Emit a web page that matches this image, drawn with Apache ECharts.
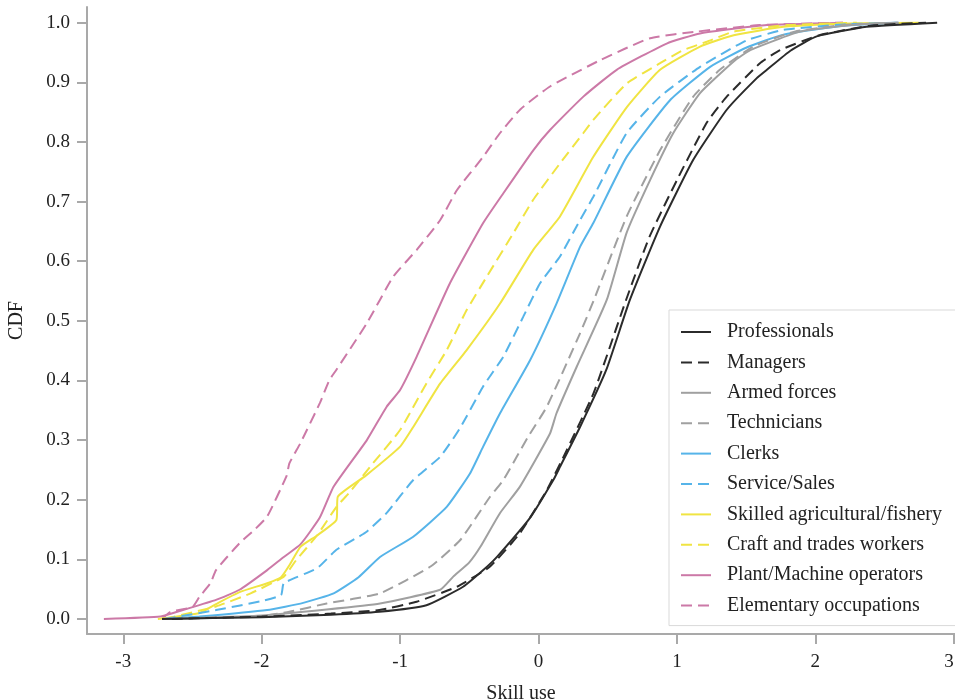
<!DOCTYPE html>
<html>
<head>
<meta charset="utf-8">
<script src="https://cdn.jsdelivr.net/npm/echarts@6/dist/echarts.min.js"></script>
<style>
  html, body { margin: 0; padding: 0; background: #fff; }
  #chart { width: 955px; height: 699px; }
</style>
</head>
<body>
<div id="chart"></div>
<script>
// Empirical CDFs of skill use by occupation group: [skill use, cumulative share]
const professionals = [[-2.72,0],[-2.0,0.003],[-1.5,0.007],[-1.15,0.012],[-0.81,0.023],[-0.545,0.054],[-0.37,0.088],[-0.30,0.104],[-0.06,0.17],[0.107,0.233],[0.155,0.255],[0.30,0.322],[0.49,0.418],[0.66,0.535],[0.878,0.658],[1.118,0.770],[1.36,0.854],[1.577,0.907],[1.65,0.921],[1.82,0.953],[2.01,0.977],[2.37,0.993],[2.88,1.0]];
const managers = [[-2.65,0],[-2.0,0.004],[-1.5,0.009],[-1.15,0.015],[-0.88,0.029],[-0.59,0.054],[-0.35,0.088],[-0.134,0.144],[0.06,0.216],[0.204,0.283],[0.40,0.38],[0.625,0.53],[0.80,0.64],[1.0,0.736],[1.215,0.832],[1.36,0.876],[1.60,0.932],[1.745,0.954],[2.03,0.979],[2.4,0.995],[2.8,1.0]];
const armedForces = [[-2.7,0],[-2.0,0.006],[-1.53,0.016],[-1.145,0.026],[-0.71,0.049],[-0.616,0.071],[-0.50,0.095],[-0.42,0.121],[-0.28,0.177],[-0.134,0.222],[0.083,0.311],[0.13,0.345],[0.276,0.423],[0.493,0.535],[0.637,0.648],[0.806,0.736],[0.974,0.815],[1.167,0.882],[1.41,0.935],[1.53,0.954],[1.89,0.985],[2.3,0.997],[2.6,1.0]];
const technicians = [[-2.7,0],[-2.3,0.002],[-2.0,0.005],[-1.8,0.012],[-1.53,0.026],[-1.145,0.043],[-0.78,0.088],[-0.567,0.132],[-0.35,0.205],[-0.254,0.233],[-0.074,0.306],[0.06,0.356],[0.30,0.479],[0.40,0.535],[0.637,0.675],[0.878,0.786],[1.118,0.876],[1.31,0.921],[1.55,0.96],[1.85,0.985],[2.2,0.996],[2.6,1.0]];
const clerks = [[-2.7,0],[-2.45,0.004],[-1.96,0.015],[-1.7,0.027],[-1.48,0.043],[-1.3,0.07],[-1.145,0.104],[-0.905,0.138],[-0.663,0.188],[-0.495,0.244],[-0.40,0.289],[-0.278,0.345],[-0.061,0.434],[0.13,0.529],[0.30,0.624],[0.396,0.664],[0.637,0.775],[0.95,0.870],[1.24,0.926],[1.50,0.958],[1.77,0.98],[2.2,0.995],[2.6,1.0]];
const serviceSales = [[-2.7,0],[-2.33,0.015],[-2.0,0.03],[-1.86,0.04],[-1.84,0.06],[-1.6,0.085],[-1.46,0.116],[-1.25,0.145],[-1.10,0.177],[-0.905,0.233],[-0.71,0.272],[-0.567,0.32],[-0.40,0.39],[-0.254,0.44],[-0.11,0.507],[0.011,0.563],[0.155,0.608],[0.30,0.669],[0.396,0.708],[0.637,0.815],[0.878,0.876],[1.167,0.926],[1.5,0.97],[1.77,0.988],[2.2,0.997],[2.6,1.0]];
const skilledAgri = [[-2.75,0],[-2.45,0.01],[-2.33,0.025],[-2.16,0.045],[-1.96,0.06],[-1.86,0.07],[-1.80,0.09],[-1.72,0.121],[-1.6,0.14],[-1.46,0.166],[-1.45,0.205],[-1.25,0.24],[-1.0,0.289],[-0.905,0.322],[-0.71,0.395],[-0.519,0.451],[-0.278,0.529],[-0.038,0.619],[0.155,0.675],[0.396,0.775],[0.637,0.858],[0.878,0.921],[1.167,0.960],[1.41,0.979],[1.77,0.993],[2.3,0.999],[2.75,1.0]];
const craftTrades = [[-2.7,0],[-2.33,0.021],[-2.08,0.043],[-1.84,0.071],[-1.75,0.099],[-1.6,0.14],[-1.46,0.188],[-1.37,0.211],[-1.2,0.26],[-1.0,0.317],[-0.81,0.395],[-0.663,0.451],[-0.519,0.518],[-0.374,0.574],[-0.182,0.647],[-0.038,0.703],[0.155,0.764],[0.324,0.815],[0.396,0.837],[0.637,0.898],[0.878,0.932],[1.046,0.954],[1.215,0.968],[1.41,0.985],[1.8,0.996],[2.3,1.0]];
const plantOperators = [[-3.14,0],[-2.73,0.004],[-2.57,0.015],[-2.33,0.032],[-2.16,0.049],[-1.96,0.082],[-1.84,0.104],[-1.72,0.125],[-1.58,0.17],[-1.48,0.222],[-1.24,0.30],[-1.097,0.356],[-1.0,0.384],[-0.88,0.44],[-0.64,0.563],[-0.40,0.664],[-0.254,0.714],[-0.038,0.786],[0.083,0.82],[0.324,0.876],[0.565,0.921],[0.926,0.965],[1.167,0.982],[1.65,0.996],[2.2,1.0]];
const elementary = [[-2.72,0],[-2.66,0.012],[-2.5,0.02],[-2.45,0.037],[-2.37,0.06],[-2.33,0.082],[-2.16,0.127],[-2.05,0.15],[-1.96,0.172],[-1.82,0.24],[-1.80,0.261],[-1.72,0.295],[-1.58,0.362],[-1.51,0.401],[-1.46,0.418],[-1.24,0.496],[-1.05,0.574],[-0.88,0.619],[-0.71,0.669],[-0.59,0.719],[-0.40,0.775],[-0.278,0.815],[-0.13,0.855],[0.083,0.893],[0.444,0.937],[0.806,0.974],[1.143,0.985],[1.6,0.996],[2.2,1.0]];

const groupNames = ['Professionals','Managers','Armed forces','Technicians','Clerks','Service/Sales','Skilled agricultural/fishery','Craft and trades workers','Plant/Machine operators','Elementary occupations'];
const groupData = [professionals, managers, armedForces, technicians, clerks, serviceSales, skilledAgri, craftTrades, plantOperators, elementary];
const xTicks = [-3,-2,-1,0,1,2,3];
const yTicks = [0,0.1,0.2,0.3,0.4,0.5,0.6,0.7,0.8,0.9,1.0];

const palette = ['#2b2b2b','#2b2b2b','#a0a0a0','#a0a0a0','#56b4e9','#56b4e9','#f0e442','#f0e442','#cc79a7','#cc79a7'];
const dashed = [false,true,false,true,false,true,false,true,false,true];

const font = 'Liberation Serif';
const axisGrey = '#a9a9a9';

const chart = echarts.init(document.getElementById('chart'), null, { renderer: 'canvas' });

const series = groupNames.map((name, i) => ({
  name: name,
  type: 'line',
  data: groupData[i],
  symbol: 'none',
  smooth: 0.15,
  lineStyle: { color: palette[i], width: 2, type: dashed[i] ? [11, 6] : 'solid' },
  itemStyle: { color: palette[i] },
  emphasis: { disabled: true },
  z: 10 - i
}));

chart.setOption({
  animation: false,
  backgroundColor: '#ffffff',
  grid: { left: 87, right: 0, top: 7, bottom: 65, containLabel: false, outerBoundsMode: 'none' },
  xAxis: {
    type: 'value',
    min: -3.262,
    max: 3.009,
    name: 'Skill use',
    nameLocation: 'middle',
    nameGap: 50,
    nameTextStyle: { fontFamily: font, fontSize: 20, color: '#222' },
    axisLine: { show: true, onZero: false, lineStyle: { color: axisGrey, width: 2 } },
    axisTick: { show: true, length: 10, customValues: xTicks, lineStyle: { color: axisGrey, width: 2 } },
    axisLabel: { customValues: xTicks, fontFamily: font, fontSize: 19, color: '#222', margin: 19,
                 alignMaxLabel: 'right', formatter: v => String(v) },
    splitLine: { show: false }
  },
  yAxis: {
    type: 'value',
    min: -0.0252,
    max: 1.0263,
    name: 'CDF',
    nameLocation: 'middle',
    nameGap: 60,
    nameRotate: 90,
    nameTextStyle: { fontFamily: font, fontSize: 20, color: '#222' },
    axisLine: { show: true, onZero: false, lineStyle: { color: axisGrey, width: 2 } },
    axisTick: { show: true, length: 10, customValues: yTicks, lineStyle: { color: axisGrey, width: 2 } },
    axisLabel: { customValues: yTicks, fontFamily: font, fontSize: 19, color: '#222', margin: 17,
                 formatter: v => v.toFixed(1) },
    splitLine: { show: false }
  },
  legend: {
    orient: 'vertical',
    left: 669,
    top: 310,
    padding: [12, 14, 10, 11],
    backgroundColor: '#ffffff',
    borderColor: '#d9d9d9',
    borderWidth: 1,
    borderRadius: 0,
    itemWidth: 30,
    itemHeight: 20,
    itemGap: 10.4,
    itemStyle: { opacity: 0 },
    data: groupNames,
    textStyle: { fontFamily: font, fontSize: 20, color: '#222', padding: [0, 0, 0, 11] }
  },
  series: series
});
</script>
</body>
</html>
